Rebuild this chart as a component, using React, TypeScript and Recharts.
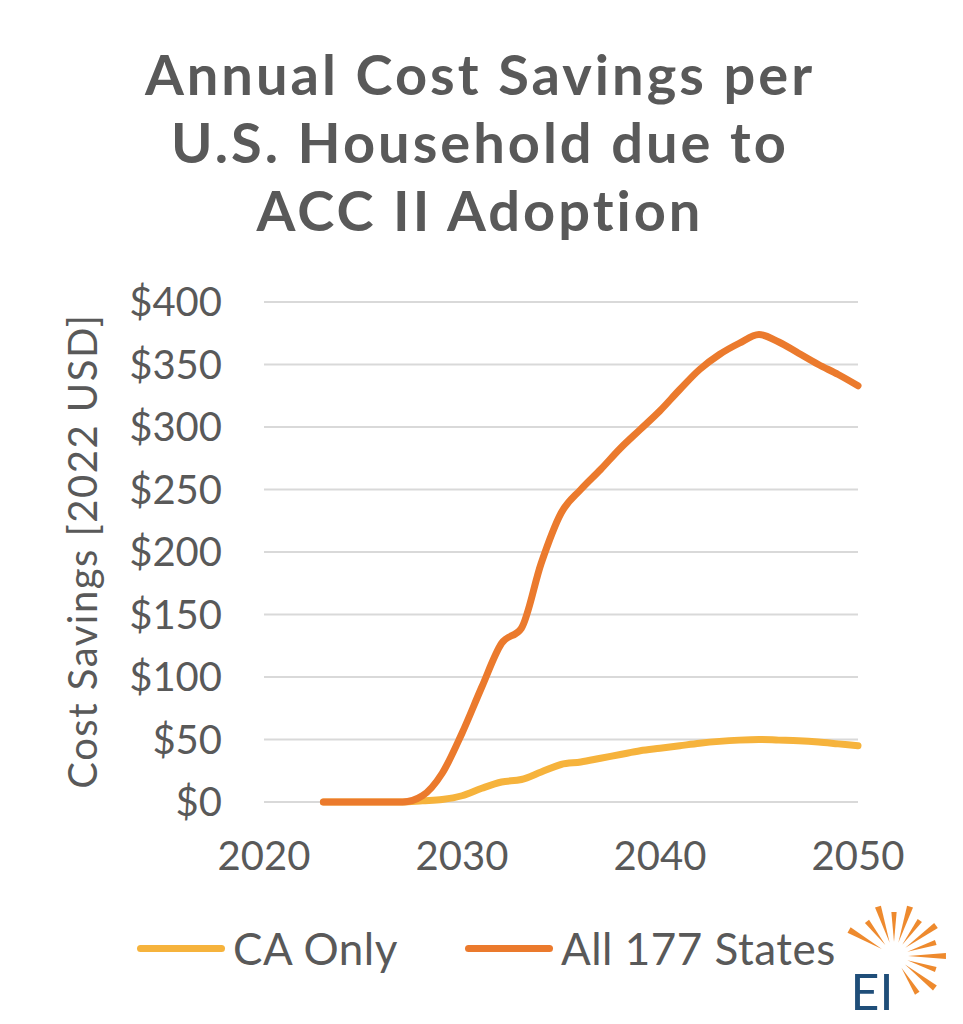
import { LineChart, Line, XAxis, YAxis, CartesianGrid } from 'recharts'

const years = [2023, 2024, 2025, 2026, 2027, 2028, 2029, 2030, 2031, 2032, 2033, 2034, 2035, 2036,
  2037, 2038, 2039, 2040, 2041, 2042, 2043, 2044, 2045, 2046, 2047, 2048, 2049, 2050]
const caOnly = [0, 0, 0, 0, 0, 1, 2, 5, 11, 16, 18, 24, 30, 32,
  35, 38, 41, 43, 45, 47, 48.5, 49.5, 50, 49.5, 49, 48, 46.5, 45]
const allStates = [0, 0, 0, 0, 0, 5, 23, 55, 92, 127, 139, 191, 231, 250,
  266, 283, 298, 313, 330, 346, 358, 367, 374, 368, 359, 350, 342, 333]
const yTicks = [0, 50, 100, 150, 200, 250, 300, 350, 400]
const xTicks = [2020, 2030, 2040, 2050]

const GRAY = '#595959'
const YELLOW = '#F6B33C'
const ORANGE = '#EB7A2D'
const FONT = 'Lato, "Open Sans", sans-serif'

const data = years.map((y, i) => ({ year: y, ca: caOnly[i], all: allStates[i] }))

function Logo() {
  const cx = 894
  const cy = 956
  const angles = [-150, -128, -108, -90, -72, -54, -36, -18, 0, 18, 38, 58]
  return (
    <svg width={963} height={1024} style={{ position: 'absolute', left: 0, top: 0, pointerEvents: 'none' }}>
      {angles.map((a, i) => {
        const r = (a * Math.PI) / 180
        const r0 = 14
        const r1 = i % 2 === 0 ? 52 : 44
        const w = 0.06
        const p = (rad: number, ang: number) => `${cx + rad * Math.cos(ang)},${cy + rad * Math.sin(ang)}`
        return (
          <polygon key={a} fill="#EE8A2E"
            points={`${p(r0, r)} ${p(r1, r - w)} ${p(r1, r + w)}`} />
        )
      })}
      <text x={872} y={1010} textAnchor="middle" fontFamily={FONT} fontSize={50} fill="#1F4E79">EI</text>
    </svg>
  )
}

export default function App() {
  return (
    <div style={{ position: 'relative', width: 963, height: 1024, margin: -8, background: '#fff', fontFamily: FONT, fontVariantLigatures: 'none' }}>
      <div style={{
        position: 'absolute', left: 3, top: 3, width: 953, height: 1015,
        border: '2px solid #d4d4d4', borderRadius: 6,
      }} />
      <div style={{
        position: 'absolute', left: 0, top: 40, width: 960, textAlign: 'center',
        fontSize: 56, fontWeight: 700, color: GRAY, lineHeight: '68px', letterSpacing: 3,
      }}>
        Annual Cost Savings per<br />U.S. Household due to<br />ACC II Adoption
      </div>
      <div style={{
        position: 'absolute', left: 82, top: 551, transform: 'translate(-50%, -50%) rotate(-90deg)',
        whiteSpace: 'nowrap', fontSize: 40, color: GRAY, letterSpacing: 1.5,
      }}>
        Cost Savings [2022 USD]
      </div>
      <div style={{ position: 'absolute', left: 0, top: 0 }}>
        <LineChart width={963} height={1024} data={data}
          margin={{ top: 302, right: 105, bottom: 162, left: 64 }}>
          <CartesianGrid vertical={false} stroke="#d9d9d9" strokeWidth={2} />
          <XAxis dataKey="year" type="number" domain={[2020, 2050]} ticks={xTicks}
            axisLine={false} tickLine={false} tickSize={0} tickMargin={40} height={60}
            tick={{ fill: GRAY, fontSize: 40, fontFamily: FONT }} />
          <YAxis domain={[0, 400]} ticks={yTicks} tickFormatter={(v) => `$${v}`}
            axisLine={false} tickLine={false} tickSize={0} tickMargin={42} width={200}
            tick={{ fill: GRAY, fontSize: 40, fontFamily: FONT }} />
          <Line type="monotone" dataKey="ca" stroke={YELLOW} strokeWidth={7} dot={false}
            strokeLinecap="round" isAnimationActive={false} />
          <Line type="monotone" dataKey="all" stroke={ORANGE} strokeWidth={7} dot={false}
            strokeLinecap="round" isAnimationActive={false} />
        </LineChart>
      </div>
      {[
        { left: 137, color: YELLOW, label: 'CA Only' },
        { left: 465, color: ORANGE, label: 'All 177 States' },
      ].map((it) => (
        <div key={it.label} style={{
          position: 'absolute', left: it.left, top: 922, display: 'flex', alignItems: 'center',
          fontSize: 44, color: GRAY, whiteSpace: 'nowrap', letterSpacing: 0.5,
        }}>
          <span style={{ display: 'inline-block', width: 88, height: 7, borderRadius: 4, background: it.color, marginRight: 8 }} />
          <span>{it.label}</span>
        </div>
      ))}
      <Logo />
    </div>
  )
}
